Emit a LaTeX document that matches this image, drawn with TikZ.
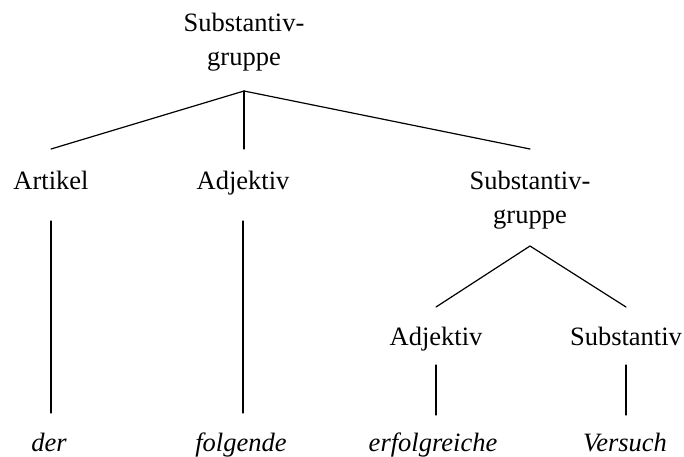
\documentclass[tikz,border=0pt]{standalone}
\usepackage{fontspec}
\setmainfont{Liberation Serif}
\begin{document}
\begin{tikzpicture}[x=1pt,y=-1pt,
  cat/.style={anchor=base, inner sep=0pt, align=center,
              font=\fontsize{26.5}{33.5}\selectfont},
  word/.style={cat, font=\fontsize{26.5}{33.5}\selectfont\itshape},
  branch/.style={line width=1.2pt, line cap=round, line join=round}]
\useasboundingbox (0,0) rectangle (684,456);

% phrase and word-class labels (two-line labels sit on their last line)
\node[cat] (np)   at (244,65)  {Substantiv-\\gruppe};
\node[cat] (art)  at (51,189)  {Artikel};
\node[cat] (adjA) at (243,189) {Adjektiv};
\node[cat] (np2)  at (530,223) {Substantiv-\\gruppe};
\node[cat] (adjB) at (436,345) {Adjektiv};
\node[cat] (noun) at (626,345) {Substantiv};

% the words themselves
\node[word] (w1) at (49,451)  {der};
\node[word] (w2) at (241,451) {folgende};
\node[word] (w3) at (433,451) {erfolgreiche};
\node[word] (w4) at (625,451) {Versuch};

% joints below the phrase labels
\coordinate (j1) at ([yshift=-26pt]np.base);
\coordinate (j2) at ([yshift=-23pt]np2.base);

% branches of the top phrase
\draw[branch] (j1) -- ([yshift=40pt]art.base);
\draw[branch] (j1) -- ([yshift=40pt]adjA.base -| j1);
\draw[branch] (j1) -- ([yshift=74pt]np2.base -| j2);

% branches of the embedded phrase
\draw[branch] (j2) -- ([yshift=38pt]adjB.base);
\draw[branch] (j2) -- ([yshift=38pt]noun.base);

% word-class to word
\draw[branch] ([yshift=-32pt]art.base)  -- ([yshift=38pt]w1.base -| art.base);
\draw[branch] ([yshift=-32pt]adjA.base) -- ([yshift=38pt]w2.base -| adjA.base);
\draw[branch] ([yshift=-20pt]adjB.base) -- ([yshift=36pt]w3.base -| adjB.base);
\draw[branch] ([yshift=-20pt]noun.base) -- ([yshift=36pt]w4.base -| noun.base);
\end{tikzpicture}
\end{document}
